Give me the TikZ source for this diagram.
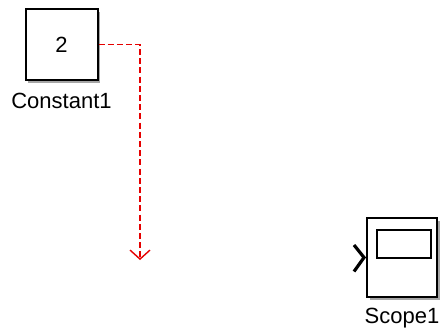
\documentclass[tikz,border=0pt]{standalone}
\usepackage{fontspec}
\setmainfont{Liberation Sans}
\usetikzlibrary{arrows.meta,positioning,shadows}

\begin{document}
\begin{tikzpicture}[x=0.5pt, y=-0.5pt,
    block/.style={draw, line width=1pt, fill=white, inner sep=0pt,
      font=\fontsize{11}{13}\selectfont,
      drop shadow={shadow xshift=1.3pt, shadow yshift=-1.3pt, fill=black!50, opacity=0.7}},
    lbl/.style={font=\fontsize{11}{13}\selectfont, inner sep=0pt},
    sig/.style={draw=red!90!black, line width=0.7pt, dash pattern=on 3pt off 1.6pt,
      -{Straight Barb[length=4.5pt, width=10pt, line width=0.7pt]}}
]
\useasboundingbox (0,0) rectangle (442,332);

% source block
\node[block, minimum width=36pt, minimum height=35.5pt] (const) at (61.5,44.5) {2};
\node[lbl, below=6pt of const] (constlbl) {Constant1};

% sink block
\node[block, minimum width=35pt, minimum height=39.5pt] (scope) at (402,257.5) {};
\node[draw, line width=0.8pt, minimum width=27pt, minimum height=14pt, inner sep=0pt]
  (screen) at (404,244) {};
\node[lbl, below=5pt of scope] (scopelbl) {Scope1};
\draw[line width=1.6pt] ([shift={(-12,-12.5)}]scope.west) -- ([shift={(-2,0)}]scope.west)
  -- ([shift={(-12,14)}]scope.west);

% unconnected signal
\coordinate (sigend) at (140,260);
\draw[sig] (const.east) -| (sigend);
\end{tikzpicture}
\end{document}
